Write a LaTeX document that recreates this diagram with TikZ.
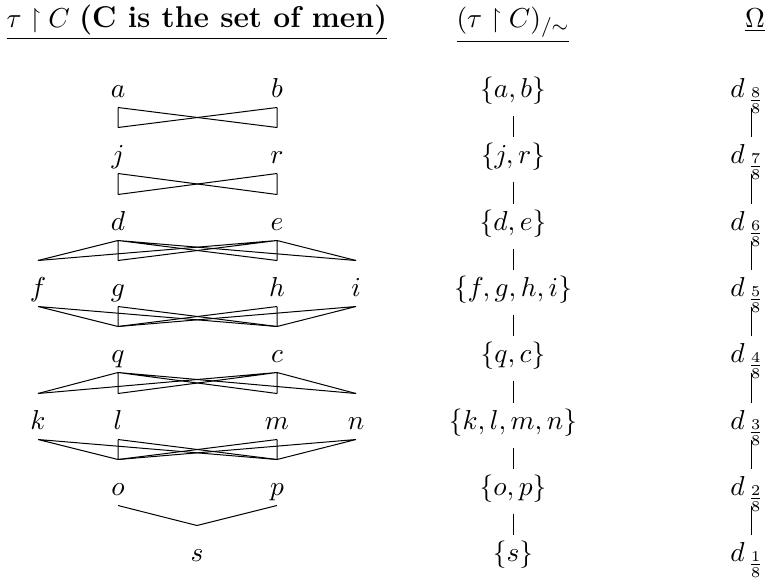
\documentclass[tikz,border=0pt]{standalone}
\usepackage{amssymb}

\begin{document}
\begin{tikzpicture}[x=0.4pt, y=-0.4pt, every node/.style={font=\fontsize{10.95}{13.6}\selectfont}]
	\tikzstyle{elem} = [inner sep=0pt, anchor=base, text height=14pt, text depth=4pt]
	\tikzstyle{cls} = [inner sep=0pt, anchor=base, text height=10.4pt, text depth=7.2pt]
	\tikzstyle{deg} = [inner sep=0pt, anchor=base, text height=10.4pt, text depth=4pt]
	\tikzstyle{title} = [inner sep=0pt, anchor=base]
	\tikzstyle{line} = [draw]
	
	\useasboundingbox (0,0) rectangle (765,580);
	
	% headings
	\node [title] (head1) at (197,27) {\underline{$\tau\upharpoonright C$ {\fontsize{12}{14}\selectfont\bfseries (C is the set of men)}}};
	\node [title] (head2) at (513,27) {\underline{$(\tau\upharpoonright C)_{/\sim}$}};
	\node [title] (head3) at (755,27) {\underline{$\Omega$}};
	
	% the men
	\node [elem] (a) at (118,97) {$a$};
	\node [elem] (b) at (277,97) {$b$};
	\node [elem] (j) at (118,163) {$j$};
	\node [elem] (r) at (277,163) {$r$};
	\node [elem] (d) at (118,230) {$d$};
	\node [elem] (e) at (277,230) {$e$};
	\node [elem] (f) at (38,296) {$f$};
	\node [elem] (g) at (118,296) {$g$};
	\node [elem] (h) at (277,296) {$h$};
	\node [elem] (i) at (356,296) {$i$};
	\node [elem] (q) at (118,362) {$q$};
	\node [elem] (c) at (277,362) {$c$};
	\node [elem] (k) at (38,429) {$k$};
	\node [elem] (l) at (118,429) {$l$};
	\node [elem] (m) at (277,429) {$m$};
	\node [elem] (n) at (356,429) {$n$};
	\node [elem] (o) at (118,495) {$o$};
	\node [elem] (p) at (277,495) {$p$};
	\node [elem] (s) at (197,561) {$s$};
	
	% the classes
	\node [cls] (ab) at (513,97) {$\{a,b\}$};
	\node [cls] (jr) at (513,163) {$\{j,r\}$};
	\node [cls] (de) at (513,230) {$\{d,e\}$};
	\node [cls] (fghi) at (513,296) {$\{f,g,h,i\}$};
	\node [cls] (qc) at (513,362) {$\{q,c\}$};
	\node [cls] (klmn) at (513,429) {$\{k,l,m,n\}$};
	\node [cls] (op) at (513,495) {$\{o,p\}$};
	\node [cls] (cs) at (513,561) {$\{s\}$};
	
	% the degrees
	\node [deg] (d8) at (747.5,97) {$d_{\,\frac{8}{8}}$};
	\node [deg] (d7) at (747.5,163) {$d_{\,\frac{7}{8}}$};
	\node [deg] (d6) at (747.5,230) {$d_{\,\frac{6}{8}}$};
	\node [deg] (d5) at (747.5,296) {$d_{\,\frac{5}{8}}$};
	\node [deg] (d4) at (747.5,362) {$d_{\,\frac{4}{8}}$};
	\node [deg] (d3) at (747.5,429) {$d_{\,\frac{3}{8}}$};
	\node [deg] (d2) at (747.5,495) {$d_{\,\frac{2}{8}}$};
	\node [deg] (d1) at (747.5,561) {$d_{\,\frac{1}{8}}$};
	
	% order on the men
	\path [line] (a.south) -- (j.north) (a.south) -- (r.north);
	\path [line] (b.south) -- (j.north) (b.south) -- (r.north);
	\path [line] (j.south) -- (d.north) (j.south) -- (e.north);
	\path [line] (r.south) -- (d.north) (r.south) -- (e.north);
	\path [line] (d.south) -- (f.north) (d.south) -- (g.north) (d.south) -- (h.north) (d.south) -- (i.north);
	\path [line] (e.south) -- (f.north) (e.south) -- (g.north) (e.south) -- (h.north) (e.south) -- (i.north);
	\path [line] (f.south) -- (q.north) (f.south) -- (c.north);
	\path [line] (g.south) -- (q.north) (g.south) -- (c.north);
	\path [line] (h.south) -- (q.north) (h.south) -- (c.north);
	\path [line] (i.south) -- (q.north) (i.south) -- (c.north);
	\path [line] (q.south) -- (k.north) (q.south) -- (l.north) (q.south) -- (m.north) (q.south) -- (n.north);
	\path [line] (c.south) -- (k.north) (c.south) -- (l.north) (c.south) -- (m.north) (c.south) -- (n.north);
	\path [line] (k.south) -- (o.north) (k.south) -- (p.north);
	\path [line] (l.south) -- (o.north) (l.south) -- (p.north);
	\path [line] (m.south) -- (o.north) (m.south) -- (p.north);
	\path [line] (n.south) -- (o.north) (n.south) -- (p.north);
	\path [line] (o.south) -- (s.north) (p.south) -- (s.north);
	
	% order on the classes
	\path [line] (ab) -- (jr);
	\path [line] (jr) -- (de);
	\path [line] (de) -- (fghi);
	\path [line] (fghi) -- (qc);
	\path [line] (qc) -- (klmn);
	\path [line] (klmn) -- (op);
	\path [line] (op) -- (cs);
	
	% order on the degrees
	\path [line] ([xshift=1.4pt]d8.south) -- ([xshift=1.4pt]d7.north);
	\path [line] ([xshift=1.4pt]d7.south) -- ([xshift=1.4pt]d6.north);
	\path [line] ([xshift=1.4pt]d6.south) -- ([xshift=1.4pt]d5.north);
	\path [line] ([xshift=1.4pt]d5.south) -- ([xshift=1.4pt]d4.north);
	\path [line] ([xshift=1.4pt]d4.south) -- ([xshift=1.4pt]d3.north);
	\path [line] ([xshift=1.4pt]d3.south) -- ([xshift=1.4pt]d2.north);
	\path [line] ([xshift=1.4pt]d2.south) -- ([xshift=1.4pt]d1.north);
	
\end{tikzpicture}
\end{document}
